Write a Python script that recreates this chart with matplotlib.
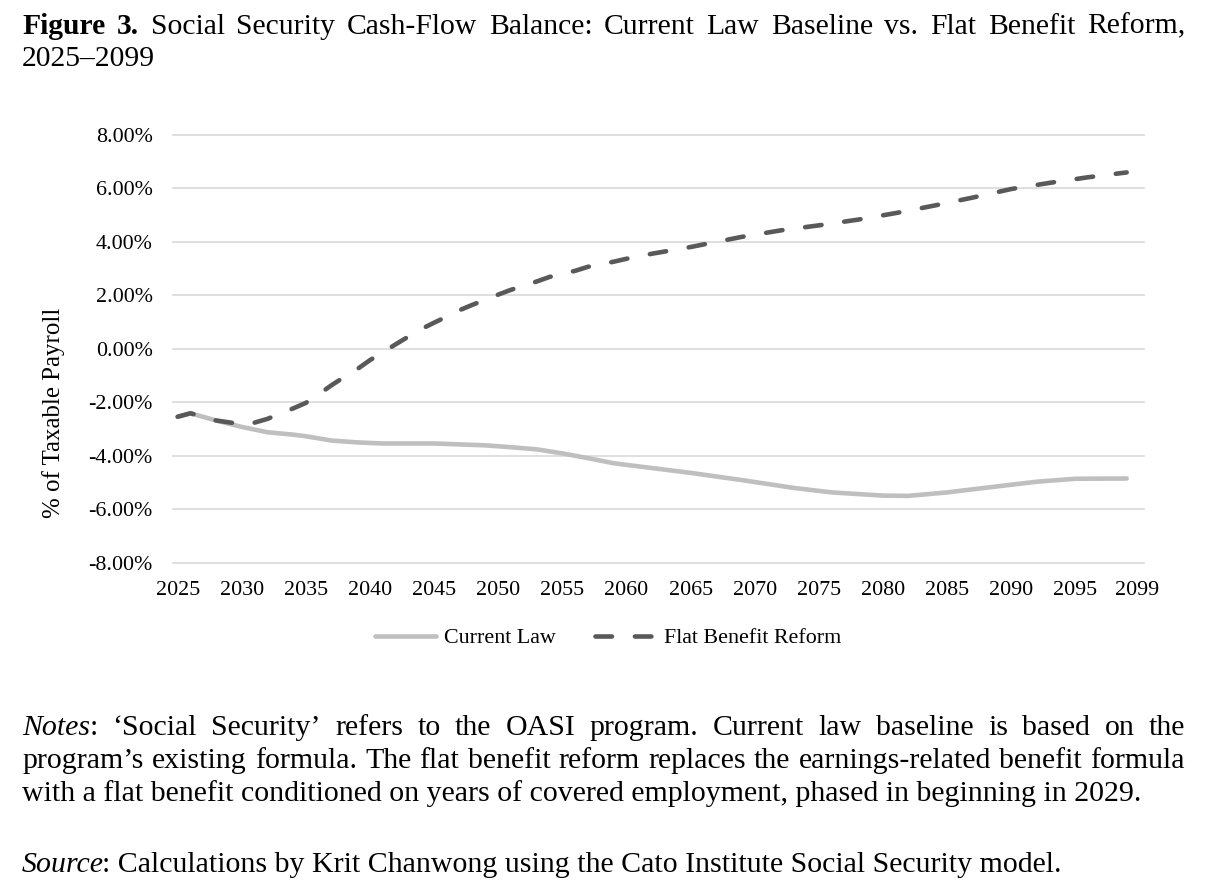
import matplotlib
matplotlib.use("Agg")
import matplotlib.pyplot as plt
import matplotlib.transforms as mtransforms

# ---------------- data ----------------
years_current = [2025, 2026, 2028, 2030, 2032, 2034, 2035, 2037, 2039, 2041, 2045,
                 2049, 2051, 2053, 2055, 2057, 2059, 2062, 2065, 2069, 2073, 2076,
                 2080, 2082, 2085, 2089, 2092, 2095, 2099]
current_law = [-2.54, -2.41, -2.68, -2.92, -3.12, -3.21, -3.27, -3.43, -3.50, -3.54, -3.54,
               -3.61, -3.68, -3.76, -3.91, -4.09, -4.28, -4.46, -4.64, -4.91, -5.20, -5.37,
               -5.49, -5.50, -5.37, -5.14, -4.97, -4.86, -4.85]

years_flat = [2025, 2026, 2028, 2030, 2031, 2032, 2033, 2034, 2035, 2036, 2037, 2038,
              2039, 2040, 2041, 2042, 2043, 2044, 2045, 2046, 2047, 2048, 2050, 2051,
              2053, 2054, 2056, 2057, 2059, 2060, 2062, 2065, 2069, 2072, 2075, 2078,
              2081, 2084, 2087, 2090, 2093, 2096, 2099]
flat_benefit = [-2.54, -2.41, -2.68, -2.82, -2.76, -2.62, -2.42, -2.23, -2.02, -1.70, -1.36, -1.05,
                -0.76, -0.42, -0.13, 0.17, 0.46, 0.74, 0.98, 1.21, 1.45, 1.65, 2.03, 2.21,
                2.52, 2.69, 2.92, 3.07, 3.26, 3.37, 3.56, 3.81, 4.19, 4.43, 4.62, 4.83,
                5.08, 5.36, 5.66, 5.98, 6.21, 6.42, 6.60]

series_names = ["Current Law", "Flat Benefit Reform"]
x_tick_labels = ["2025", "2030", "2035", "2040", "2045", "2050", "2055", "2060",
                 "2065", "2070", "2075", "2080", "2085", "2090", "2095", "2099"]
y_tick_values = [-8, -6, -4, -2, 0, 2, 4, 6, 8]
y_label = "% of Taxable Payroll"

title_line1 = [[("Figure", "bold")], [("3.", "bold")], [("Social", "normal")],
               [("Security", "normal")], [("Cash-Flow", "normal")], [("Balance:", "normal")],
               [("Current", "normal")], [("Law", "normal")], [("Baseline", "normal")],
               [("vs.", "normal")], [("Flat", "normal")], [("Benefit", "normal")],
               [("Reform,", "normal")]]
title_line2 = "2025\u20132099"
notes_line1 = "\u2018Social Security\u2019 refers to the OASI program. Current law baseline is based on the"
notes_line2 = "program\u2019s existing formula. The flat benefit reform replaces the earnings-related benefit formula"
notes_line3 = "with a flat benefit conditioned on years of covered employment, phased in beginning in 2029."
source_text = ": Calculations by Krit Chanwong using the Cato Institute Social Security model."

# ---------------- figure ----------------
W, H, DPI = 1208, 888, 100
plt.rcParams['font.family'] = ['Liberation Serif', 'DejaVu Serif']
fig = plt.figure(figsize=(W / DPI, H / DPI), dpi=DPI)
fig.patch.set_facecolor('white')
renderer = fig.canvas.get_renderer()


def style_kw(st):
    if st == "bold":
        return dict(fontweight='bold')
    if st == "italic":
        return dict(fontstyle='italic')
    return {}


def text_width(s, size, st="normal"):
    t = fig.text(0, 0, s, fontsize=size, **style_kw(st))
    w = t.get_window_extent(renderer).width
    t.remove()
    return w


def fit_size(s, target_px, st="normal"):
    return 20.0 * target_px / text_width(s, 20.0, st)


def draw_words(words, x0, x1, y_base, size, justify=True):
    widths = [sum(text_width(seg, size, st) for seg, st in w) for w in words]
    if justify and len(words) > 1:
        gap = (x1 - x0 - sum(widths)) / (len(words) - 1)
    else:
        gap = text_width("a a", size) - text_width("aa", size)
    x = x0
    for w, ww in zip(words, widths):
        xx = x
        for seg, st in w:
            fig.text(xx / W, 1 - y_base / H, seg, fontsize=size, ha='left',
                     va='baseline', color='black', **style_kw(st))
            xx += text_width(seg, size, st)
        x += ww + gap


# font sizes calibrated to reference text widths
chart_fs = fit_size("Current Law", 112)
title_fs = fit_size(title_line2, 133)
notes_fs = 20.0 * 1039 / (text_width("Source", 20.0, "italic") + text_width(source_text, 20.0))
ylab_fs = fit_size(y_label, 210)

# ---------------- axes ----------------
left, right, top, bottom = 173.3, 1144.0, 135.0, 562.7
ax = fig.add_axes([left / W, 1 - bottom / H, (right - left) / W, (bottom - top) / H])
ax.set_facecolor('white')

lw = 3.3
ax.plot(years_current, current_law, color='#BFBFBF', lw=lw, solid_capstyle='round',
        solid_joinstyle='round', label=series_names[0], zorder=3)
ax.plot(years_flat, flat_benefit, color='#595959', lw=lw, dashes=(3.6, 5.0),
        dash_capstyle='round', dash_joinstyle='round', label=series_names[1], zorder=4)

ax.set_xlim(2024.66, 2100.35)
ax.set_ylim(-8, 8)
ax.set_yticks(y_tick_values)
ax.set_yticklabels([f"{v:.2f}%" for v in y_tick_values])
ax.set_xticks([int(s) for s in x_tick_labels])
ax.set_xticklabels(x_tick_labels)
ax.tick_params(axis='both', length=0, labelsize=chart_fs, colors='black')
ax.tick_params(axis='x', pad=13.0)
ax.tick_params(axis='y', pad=14.8)
for sp in ax.spines.values():
    sp.set_visible(False)
ax.yaxis.grid(True, color='#D9D9D9', lw=1.2)
ax.set_axisbelow(True)
for gl in ax.get_ygridlines():
    gl.set_clip_on(False)

# last label sits slightly right of its category in the reference
last = ax.xaxis.get_major_ticks()[-1].label1
last.set_transform(last.get_transform() +
                   mtransforms.ScaledTranslation(10.5 / DPI, 0, fig.dpi_scale_trans))

fig.text(54 / W, 1 - 413 / H, y_label, rotation=90, ha='center', va='center',
         fontsize=ylab_fs, color='black')

# ---------------- legend ----------------
em = chart_fs * DPI / 72.0
fig.legend(loc='center', bbox_to_anchor=(608 / W, 1 - 638 / H), ncol=2, frameon=False,
           fontsize=chart_fs, handlelength=61.5 / em, handletextpad=7.5 / em,
           columnspacing=40 / em, borderaxespad=0, borderpad=0)

# ---------------- title & notes ----------------
x0, x1 = 22, 1185
draw_words(title_line1, x0, x1, 33.5, title_fs, justify=True)
fig.text(x0 / W, 1 - 65.5 / H, title_line2, fontsize=title_fs, ha='left', va='baseline')

n1 = [[("Notes", "italic"), (":", "normal")]] + [[(w, "normal")] for w in notes_line1.split(" ")]
draw_words(n1, x0, x1, 734.5, notes_fs, justify=True)
draw_words([[(w, "normal")] for w in notes_line2.split(" ")], x0, x1, 767.5, notes_fs, justify=True)
fig.text(x0 / W, 1 - 800.5 / H, notes_line3, fontsize=notes_fs, ha='left', va='baseline')

sw = text_width("Source", notes_fs, "italic")
fig.text(x0 / W, 1 - 872 / H, "Source", fontsize=notes_fs, fontstyle='italic',
         ha='left', va='baseline')
fig.text((x0 + sw - 2.5) / W, 1 - 872 / H, source_text, fontsize=notes_fs,
         ha='left', va='baseline')

fig.savefig("out.png", dpi=DPI, facecolor='white')
